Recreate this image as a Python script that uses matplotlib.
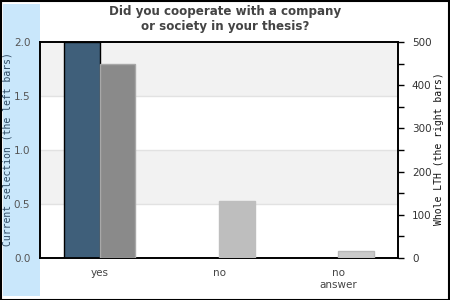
import matplotlib
matplotlib.use("Agg")
import matplotlib.pyplot as plt
from matplotlib.patches import Rectangle

categories = ["yes", "no", "no\nanswer"]
current_selection = [2.0, 0.0, 0.0]
whole_lth = [448, 131, 17]
right_colors = ["#8a8a8a", "#bebebe", "#cacaca"]
right_edges = ["#a8a8a8", "#bebebe", "#b8b8b8"]
left_ticks = [0.0, 0.5, 1.0, 1.5, 2.0]
right_ticks = [0, 100, 200, 300, 400, 500]

W, H = 450, 300
fig = plt.figure(figsize=(4.5, 3.0), dpi=100)
fig.patch.set_facecolor("white")

# light blue band on left
fig.patches.append(Rectangle((3 / W, 4 / H), 37 / W, 292 / H, transform=fig.transFigure,
                             facecolor="#c9e7fb", edgecolor="none", zorder=-5))
# outer border
fig.patches.append(Rectangle((0.5 / W, 0.5 / H), 448.5 / W, 298.5 / H, transform=fig.transFigure,
                             facecolor="none", edgecolor="black", linewidth=1.5, zorder=5))

ax = fig.add_axes([40 / W, 42 / H, 358 / W, 216 / H])
ax.set_facecolor("white")
ax.set_xlim(-0.5, 2.5)
ax.set_ylim(0, 2)
for lo, hi in [(0.5, 1.0), (1.5, 2.0)]:
    ax.axhspan(lo, hi, color="#f2f2f2", zorder=0, linewidth=0)
for y in [0.5, 1.0, 1.5]:
    ax.axhline(y, color="#e2e2e2", linewidth=1, zorder=0.5)

x = list(range(len(categories)))
ax.bar([i - 0.3 for i in x], current_selection, width=0.3, align="edge",
       color="#3f5f7a", edgecolor="black", linewidth=1, zorder=3)

ax.set_yticks(left_ticks)
ax.set_yticklabels([f"{v:.1f}" for v in left_ticks], color="#555555", fontsize=7.5)
ax.tick_params(axis="y", length=0, pad=7)
ax.set_xticks(x)
ax.set_xticklabels(categories, color="#444444", fontsize=7.5, linespacing=1.3)
ax.tick_params(axis="x", length=0, pad=7)
for s in ax.spines.values():
    s.set_linewidth(1.2)
    s.set_color("black")

ax2 = ax.twinx()
ax2.set_ylim(0, 500)
ax2.bar(x, whole_lth, width=0.3, align="edge", color=right_colors,
        edgecolor=right_edges, linewidth=1, zorder=3)
ax2.set_yticks(right_ticks)
ax2.set_yticklabels([str(v) for v in right_ticks], color="#333333", fontsize=7.5)
ax2.set_yticks([50, 150, 250, 350, 450], minor=True)
ax2.tick_params(axis="y", which="both", length=4, width=1, direction="out", pad=6)
for s in ax2.spines.values():
    s.set_linewidth(1.2)

fig.text(8 / W, 151 / H, "Current selection (the left bars)", rotation=90, ha="center", va="center",
         family="DejaVu Sans Mono", fontsize=7.0, color="#2f4a63")
fig.text(439 / W, 151 / H, "Whole LTH (the right bars)", rotation=90, ha="center", va="center",
         family="DejaVu Sans Mono", fontsize=7.0, color="#111111")

fig.text(0.5, 1 - 19 / H, "Did you cooperate with a company\nor society in your thesis?",
         ha="center", va="center", fontsize=8.6, fontweight="bold", color="#444444", linespacing=1.15)

fig.savefig("out.png", dpi=100)
